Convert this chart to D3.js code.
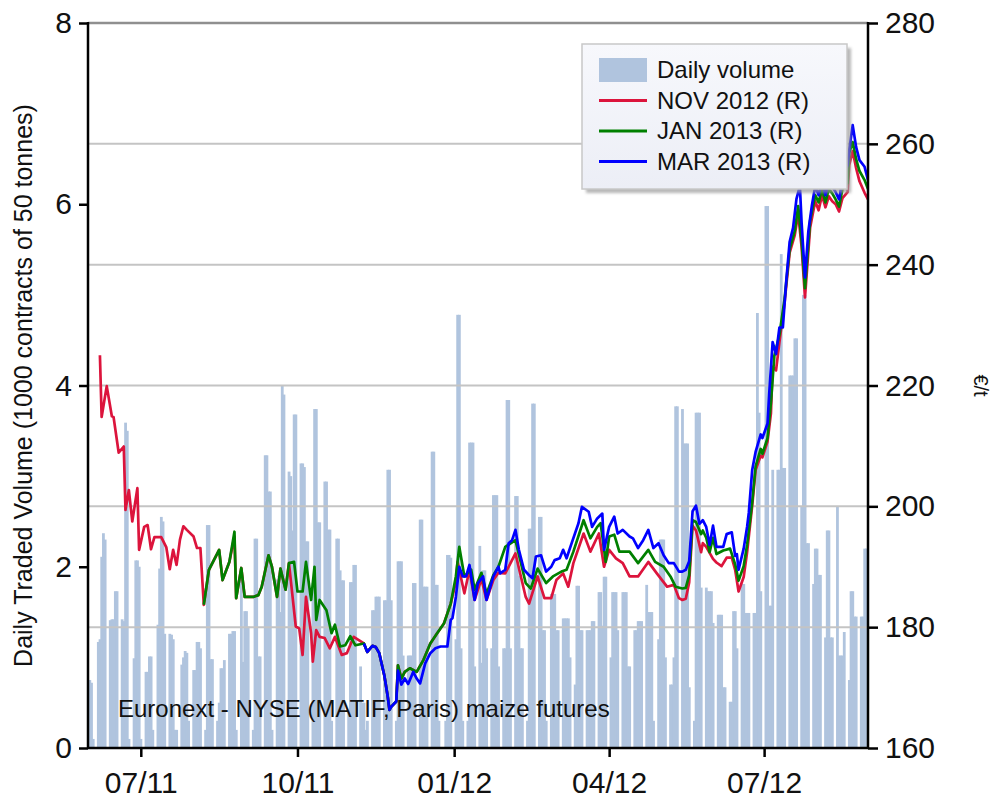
<!DOCTYPE html>
<html>
<head>
<meta charset="utf-8">
<script src="https://d3js.org/d3.v7.min.js"></script>
<style>
  body { margin: 0; background: #fff; }
  svg { display: block; font-family: "Liberation Sans", Arial, sans-serif; }
</style>
</head>
<body>
<svg id="chart" width="996" height="800"></svg>
<script>
// daily traded volume, 1000 contracts, one row per week (Mon..Fri), first week starts Wed 1 Jun 2011
var volume = [
  0.75, 0.72, 0.10,
  1.17, 1.20, 2.11, 2.37, 2.30,
  1.41, 1.42, 1.42, 1.73, 1.73,
  1.42, 1.40, 3.59, 3.50, 0.10,
  0.99, 2.07, 2.07, 2.00, 0.10,
  0.84, 0.84, 1.01, 1.01, 0.20,
  1.36, 1.98, 2.55, 2.50, 1.26,
  1.26, 1.25, 1.20, 0.20, 0.20,
  0.92, 1.00, 1.07, 1.05, 0.30,
  0.86, 0.86, 1.17, 1.17, 1.10,
  0.20, 2.46, 2.46, 0.98, 0.98,
  0.30, 0.50, 0.88, 0.88, 0.97,
  1.26, 1.26, 1.29, 1.29, 0.20,
  1.89, 0.95, 1.51, 1.51, 1.34,
  0.20, 2.31, 2.31, 1.01, 1.01,
  3.23, 3.23, 2.83, 2.83, 0.20,
  1.86, 1.90, 1.50, 4.00, 3.90,
  3.05, 3.00, 2.40, 3.68, 3.68,
  3.14, 3.14, 3.10, 2.28, 2.28,
  1.82, 3.74, 3.74, 2.49, 2.49,
  2.94, 2.94, 2.41, 2.41, 0.30,
  2.31, 2.31, 1.96, 1.85, 1.85,
  0.40, 1.83, 1.83, 2.02, 2.02,
  0.90, 0.50, 0.50, 0.20, 0.30,
  1.52, 1.52, 1.67, 1.67, 1.67,
  1.63, 1.63, 3.07, 3.07, 1.63,
  0.30, 2.06, 2.06, 2.06, 1.02,
  1.02, 1.02, 1.02, 1.82, 1.82,
  2.52, 2.52, 1.78, 1.78, 1.78,
  3.27, 3.27, 1.80, 1.80, 0.30,
  0.00, 0.30, 2.13, 2.13, 2.10,
  1.20, 4.78, 4.78, 1.10, 0.30,
  0.30, 3.37, 3.37, 3.37, 0.90,
  2.23, 0.94, 1.96, 1.96, 1.10,
  1.10, 2.79, 2.79, 2.79, 0.90,
  1.10, 1.10, 3.84, 3.84, 1.10,
  2.78, 2.78, 1.90, 1.10, 1.10,
  0.30, 2.42, 2.42, 3.80, 3.80,
  2.55, 2.55, 1.30, 1.30, 0.30,
  1.70, 1.70, 1.70, 1.30, 1.30,
  1.43, 1.43, 1.43, 1.43, 1.00,
  0.70, 1.79, 1.79, 1.30, 1.30,
  1.30, 1.30, 1.30, 1.40, 1.40,
  1.72, 1.72, 1.35, 1.89, 1.89,
  1.00, 1.72, 1.72, 1.72, 1.30,
  1.72, 1.72, 1.72, 0.90, 0.90,
  1.30, 1.30, 1.40, 1.40, 1.40,
  1.80, 1.50, 1.50, 1.50, 0.30,
  1.20, 2.30, 2.30, 2.30, 1.00,
  0.70, 0.70, 1.00, 3.77, 3.77,
  3.74, 3.36, 3.36, 3.36, 0.67,
  0.30, 3.70, 3.70, 3.70, 1.77,
  1.77, 1.73, 1.73, 1.73, 1.38,
  1.47, 1.47, 1.47, 0.67, 0.67,
  0.51, 0.51, 1.51, 1.51, 1.10,
  1.81, 1.81, 1.49, 1.49, 1.49,
  1.49, 1.49, 4.80, 3.70, 1.73,
  5.98, 5.98, 1.57, 1.57, 3.07,
  3.07, 3.07, 5.45, 3.09, 3.09,
  4.11, 4.11, 4.11, 4.52, 4.52,
  2.67, 5.00, 5.00, 2.26, 2.26,
  1.81, 2.20, 2.20, 1.91, 1.91,
  1.22, 2.40, 2.40, 1.22, 1.22,
  2.67, 1.02, 1.02, 1.02, 1.28,
  0.75, 1.73, 1.73, 1.45, 1.45,
  1.45, 1.45, 2.20, 2.20, 2.20
];

// settlement prices, EUR/t
var nov2012 = [
  ["2011-06-07",225.0],["2011-06-08",214.8],["2011-06-11",219.9],["2011-06-14",214.9],["2011-06-15",214.8],
  ["2011-06-18",208.9],["2011-06-21",209.9],["2011-06-22",199.4],["2011-06-24",202.7],["2011-06-26",197.5],
  ["2011-06-29",203.0],["2011-06-30",192.8],["2011-07-03",196.6],["2011-07-05",196.9],["2011-07-07",192.9],
  ["2011-07-09",194.9],["2011-07-13",194.9],["2011-07-16",193.2],["2011-07-18",189.6],["2011-07-20",192.8],
  ["2011-07-22",190.3],["2011-07-24",194.5],["2011-07-26",196.7],["2011-07-28",196.1],["2011-08-01",195.0],
  ["2011-08-03",193.1],["2011-08-05",193.1],["2011-08-07",183.7],["2011-08-10",189.5],["2011-08-16",192.8],
  ["2011-08-18",187.8],["2011-08-22",190.8],["2011-08-25",195.0],["2011-08-26",184.8],["2011-08-29",189.8],
  ["2011-08-31",185.0],["2011-09-05",185.0],["2011-09-08",185.3],["2011-09-10",186.7],["2011-09-14",191.9],
  ["2011-09-16",190.0],["2011-09-19",185.0],["2011-09-21",189.7],["2011-09-24",186.2],["2011-09-26",190.6],
  ["2011-09-30",180.1],["2011-10-02",179.8],["2011-10-04",175.4],["2011-10-06",185.0],["2011-10-09",179.0],
  ["2011-10-10",174.3],["2011-10-12",179.5],["2011-10-14",178.4],["2011-10-17",178.2],["2011-10-20",176.5],
  ["2011-10-23",178.4],["2011-10-27",175.4],["2011-10-30",175.7],["2011-11-03",178.4],["2011-11-09",177.3],
  ["2011-11-11",175.9],["2011-11-14",176.9],["2011-11-16",176.7],["2011-11-18",175.7],["2011-11-21",172.0],
  ["2011-11-23",168.5],["2011-11-24",166.3],["2011-11-25",166.8],["2011-11-28",167.7],["2011-11-29",173.7],
  ["2011-12-01",171.5],["2011-12-03",172.6],["2011-12-06",173.2],["2011-12-10",172.6],["2011-12-14",174.6],
  ["2011-12-18",177.3],["2011-12-22",179.0],["2011-12-26",180.6],["2011-12-30",183.9],["2012-01-02",187.5],
  ["2012-01-03",190.8],["2012-01-07",185.6],["2012-01-10",189.5],["2012-01-13",184.5],["2012-01-17",188.0],
  ["2012-01-20",184.5],["2012-01-24",187.8],["2012-01-27",189.0],["2012-01-31",188.9],["2012-02-06",192.2],
  ["2012-02-12",185.0],["2012-02-14",183.9],["2012-02-19",188.4],["2012-02-23",184.8],["2012-02-27",184.8],
  ["2012-03-01",187.8],["2012-03-05",188.9],["2012-03-08",186.7],["2012-03-11",190.6],["2012-03-17",195.5],
  ["2012-03-21",192.5],["2012-03-26",195.5],["2012-03-29",190.0],["2012-04-01",192.8],["2012-04-05",191.4],
  ["2012-04-09",190.6],["2012-04-13",188.4],["2012-04-18",188.4],["2012-04-24",190.8],["2012-04-29",188.9],
  ["2012-05-05",186.7],["2012-05-09",187.0],["2012-05-12",184.8],["2012-05-14",184.5],["2012-05-16",184.7],
  ["2012-05-18",187.4],["2012-05-20",196.8],["2012-05-22",196.0],["2012-05-25",192.4],["2012-05-26",193.9],
  ["2012-05-28",193.3],["2012-06-01",191.3],["2012-06-03",190.7],["2012-06-06",190.1],["2012-06-09",191.5],
  ["2012-06-12",191.5],["2012-06-14",189.5],["2012-06-16",185.9],["2012-06-19",188.3],["2012-06-21",192.4],
  ["2012-06-24",200.1],["2012-06-26",206.0],["2012-06-29",208.4],["2012-06-30",208.1],["2012-07-03",210.7],
  ["2012-07-05",215.4],["2012-07-06",223.1],["2012-07-08",222.5],["2012-07-10",227.2],["2012-07-13",233.7],
  ["2012-07-16",242.0],["2012-07-19",244.9],["2012-07-21",248.5],["2012-07-23",243.0],["2012-07-25",234.6],
  ["2012-07-28",246.1],["2012-07-31",250.5],["2012-08-02",249.0],["2012-08-04",251.5],["2012-08-06",249.5],
  ["2012-08-08",251.3],["2012-08-10",250.5],["2012-08-12",250.0],["2012-08-14",248.8],["2012-08-16",251.0],
  ["2012-08-19",252.0],["2012-08-20",256.5],["2012-08-22",258.8],["2012-08-24",256.0],["2012-08-26",253.8],
  ["2012-08-29",251.9],["2012-08-31",250.8]
];

var jan2013 = [
  ["2011-08-07",183.7],["2011-08-10",189.5],["2011-08-16",192.8],["2011-08-18",187.8],["2011-08-22",190.8],
  ["2011-08-25",195.8],["2011-08-26",184.8],["2011-08-29",189.8],["2011-08-31",185.0],["2011-09-05",185.0],
  ["2011-09-08",185.3],["2011-09-10",186.7],["2011-09-14",191.9],["2011-09-16",190.0],["2011-09-19",185.0],
  ["2011-09-21",189.7],["2011-09-24",186.2],["2011-09-26",190.6],["2011-09-29",190.8],["2011-10-01",185.9],
  ["2011-10-04",185.9],["2011-10-06",190.8],["2011-10-09",184.5],["2011-10-11",190.0],["2011-10-12",181.2],
  ["2011-10-14",184.5],["2011-10-18",182.8],["2011-10-21",179.0],["2011-10-23",180.4],["2011-10-26",176.8],
  ["2011-10-29",177.0],["2011-11-01",178.5],["2011-11-04",177.0],["2011-11-09",177.3],["2011-11-11",175.9],
  ["2011-11-14",176.9],["2011-11-16",176.7],["2011-11-18",175.7],["2011-11-21",172.0],["2011-11-23",168.5],
  ["2011-11-24",166.3],["2011-11-25",166.8],["2011-11-28",167.7],["2011-11-29",173.7],["2011-12-01",171.5],
  ["2011-12-03",172.6],["2011-12-06",173.2],["2011-12-10",172.6],["2011-12-14",174.6],["2011-12-18",177.3],
  ["2011-12-22",179.0],["2011-12-26",180.6],["2011-12-30",183.9],["2012-01-02",188.4],["2012-01-04",193.3],
  ["2012-01-07",188.4],["2012-01-11",189.5],["2012-01-13",186.2],["2012-01-17",189.0],["2012-01-20",185.5],
  ["2012-01-24",188.6],["2012-01-27",190.0],["2012-01-31",193.3],["2012-02-06",194.4],["2012-02-12",187.3],
  ["2012-02-15",186.4],["2012-02-19",189.7],["2012-02-24",187.3],["2012-02-28",188.4],["2012-03-04",189.2],
  ["2012-03-07",189.5],["2012-03-11",192.5],["2012-03-17",197.7],["2012-03-21",194.7],["2012-03-25",196.6],
  ["2012-03-27",197.2],["2012-03-30",190.8],["2012-04-01",195.0],["2012-04-04",195.3],["2012-04-07",192.5],
  ["2012-04-13",192.5],["2012-04-18",190.6],["2012-04-24",192.8],["2012-04-28",190.8],["2012-05-03",190.0],
  ["2012-05-07",188.4],["2012-05-10",186.7],["2012-05-14",186.4],["2012-05-16",186.5],["2012-05-18",188.6],
  ["2012-05-20",197.7],["2012-05-22",197.4],["2012-05-25",195.4],["2012-05-26",196.0],["2012-05-28",194.8],
  ["2012-05-30",192.4],["2012-06-01",194.8],["2012-06-03",192.1],["2012-06-07",192.7],["2012-06-11",193.0],
  ["2012-06-14",190.4],["2012-06-16",187.7],["2012-06-19",190.1],["2012-06-21",193.6],["2012-06-24",200.7],
  ["2012-06-26",206.6],["2012-06-29",209.5],["2012-06-30",208.7],["2012-07-03",211.3],["2012-07-05",217.2],
  ["2012-07-07",224.9],["2012-07-10",228.4],["2012-07-13",234.3],["2012-07-16",242.6],["2012-07-19",245.6],
  ["2012-07-21",249.7],["2012-07-23",244.0],["2012-07-25",236.1],["2012-07-28",247.3],["2012-07-31",251.5],
  ["2012-08-02",250.3],["2012-08-04",252.5],["2012-08-06",250.3],["2012-08-08",252.5],["2012-08-10",251.8],
  ["2012-08-12",250.8],["2012-08-14",249.6],["2012-08-16",252.5],["2012-08-19",253.5],["2012-08-20",258.5],
  ["2012-08-22",260.3],["2012-08-24",257.5],["2012-08-26",255.5],["2012-08-29",254.0],["2012-08-31",252.5]
];

var mar2013 = [
  ["2011-11-09",177.3],["2011-11-11",175.9],["2011-11-14",176.9],["2011-11-16",176.7],["2011-11-18",175.7],
  ["2011-11-21",172.0],["2011-11-23",168.5],["2011-11-24",166.3],["2011-11-25",166.8],["2011-11-28",167.7],
  ["2011-11-29",172.8],["2011-12-01",170.5],["2011-12-03",171.5],["2011-12-05",170.6],["2011-12-08",172.6],
  ["2011-12-10",171.5],["2011-12-12",170.7],["2011-12-15",174.0],["2011-12-18",175.7],["2011-12-21",176.5],
  ["2011-12-24",176.8],["2011-12-28",176.8],["2011-12-30",181.2],["2011-12-31",181.5],["2012-01-02",185.0],
  ["2012-01-04",190.0],["2012-01-06",188.4],["2012-01-08",188.4],["2012-01-10",190.3],["2012-01-13",184.5],
  ["2012-01-15",187.3],["2012-01-18",188.4],["2012-01-20",184.5],["2012-01-24",188.4],["2012-01-27",190.0],
  ["2012-01-28",188.9],["2012-01-31",189.5],["2012-02-02",193.9],["2012-02-04",194.4],["2012-02-06",196.1],
  ["2012-02-08",192.8],["2012-02-11",189.5],["2012-02-14",188.6],["2012-02-16",188.1],["2012-02-18",191.7],
  ["2012-02-21",191.9],["2012-02-24",189.2],["2012-02-27",190.0],["2012-02-29",191.1],["2012-03-03",191.4],
  ["2012-03-05",192.8],["2012-03-07",191.4],["2012-03-10",193.9],["2012-03-14",197.2],["2012-03-16",199.9],
  ["2012-03-20",199.1],["2012-03-22",196.6],["2012-03-25",198.0],["2012-03-28",198.8],["2012-03-29",192.8],
  ["2012-04-01",196.6],["2012-04-04",198.3],["2012-04-06",195.5],["2012-04-09",196.1],["2012-04-13",195.0],
  ["2012-04-15",194.7],["2012-04-18",193.1],["2012-04-21",194.4],["2012-04-24",196.1],["2012-04-27",193.1],
  ["2012-04-30",193.9],["2012-05-03",191.9],["2012-05-06",190.6],["2012-05-09",190.6],["2012-05-12",189.2],
  ["2012-05-14",189.2],["2012-05-16",189.5],["2012-05-18",190.9],["2012-05-20",199.2],["2012-05-22",200.1],
  ["2012-05-24",197.1],["2012-05-26",197.7],["2012-05-28",196.6],["2012-05-30",193.6],["2012-06-01",196.8],
  ["2012-06-03",193.3],["2012-06-07",193.3],["2012-06-09",195.4],["2012-06-12",195.7],["2012-06-14",191.8],
  ["2012-06-15",192.1],["2012-06-16",189.5],["2012-06-19",193.0],["2012-06-21",196.6],["2012-06-22",198.9],
  ["2012-06-24",206.0],["2012-06-26",209.0],["2012-06-29",211.9],["2012-06-30",211.3],["2012-07-03",213.7],
  ["2012-07-04",218.7],["2012-07-06",227.2],["2012-07-08",225.2],["2012-07-10",229.6],["2012-07-12",229.6],
  ["2012-07-14",237.3],["2012-07-16",243.8],["2012-07-18",246.1],["2012-07-20",250.9],["2012-07-22",253.0],
  ["2012-07-23",247.0],["2012-07-25",237.9],["2012-07-27",245.6],["2012-07-29",249.7],["2012-07-31",253.0],
  ["2012-08-02",251.5],["2012-08-04",254.0],["2012-08-06",251.5],["2012-08-08",254.0],["2012-08-10",253.0],
  ["2012-08-12",252.0],["2012-08-14",250.8],["2012-08-16",254.0],["2012-08-19",256.5],["2012-08-20",259.0],
  ["2012-08-22",263.1],["2012-08-24",259.5],["2012-08-26",257.3],["2012-08-29",256.2],["2012-08-31",254.0]
];

var volTicks = [0, 2, 4, 6, 8];
var priceTicks = [160, 180, 200, 220, 240, 260, 280];
var dateTicks = ["2011-07-01", "2011-10-01", "2012-01-01", "2012-04-01", "2012-07-01"];

var legendItems = [
  { label: "Daily volume", type: "bar", color: "#b0c4de" },
  { label: "NOV 2012 (R)", type: "line", color: "#dc143c" },
  { label: "JAN 2013 (R)", type: "line", color: "#008000" },
  { label: "MAR 2013 (R)", type: "line", color: "#0000ff" }
];

var parse = d3.utcParse("%Y-%m-%d");
var plot = { left: 88, right: 868, top: 23, bottom: 748 };

var svg = d3.select("#chart");

var x = d3.scaleUtc()
  .domain([parse("2011-05-31"), parse("2012-08-31")])
  .range([plot.left, plot.right]);
var yVol = d3.scaleLinear().domain([0, 8]).range([plot.bottom, plot.top]);
var yPrice = d3.scaleLinear().domain([160, 280]).range([plot.bottom, plot.top]);

// trading days for the volume bars
var days = d3.utcDay.range(parse("2011-06-01"), parse("2012-09-01"))
  .filter(function (d) { return d.getUTCDay() !== 0 && d.getUTCDay() !== 6; });
var bars = days.map(function (d, i) { return { date: d, v: volume[i] || 0 }; });

var defs = svg.append("defs");
defs.append("filter").attr("id", "blur")
  .append("feGaussianBlur").attr("stdDeviation", 1.6);
defs.append("clipPath").attr("id", "plotclip")
  .append("rect")
  .attr("x", plot.left).attr("y", plot.top)
  .attr("width", plot.right - plot.left).attr("height", plot.bottom - plot.top);

var grad = defs.append("linearGradient").attr("id", "legfill")
  .attr("x1", 0).attr("y1", 0).attr("x2", 0).attr("y2", 1);
grad.append("stop").attr("offset", "0%").attr("stop-color", "#f7f8fc");
grad.append("stop").attr("offset", "100%").attr("stop-color", "#eceef6");

// volume bars
svg.append("g").attr("clip-path", "url(#plotclip)")
  .selectAll("rect").data(bars).enter().append("rect")
  .attr("x", function (d) { return x(d.date) - 1.3; })
  .attr("width", 2.8)
  .attr("y", function (d) { return yVol(d.v); })
  .attr("height", function (d) { return plot.bottom - yVol(d.v); })
  .attr("fill", "#b0c4de");

// grid lines from the price axis
svg.append("g").selectAll("line").data(priceTicks.slice(1, -1)).enter().append("line")
  .attr("x1", plot.left).attr("x2", plot.right)
  .attr("y1", function (d) { return yPrice(d); })
  .attr("y2", function (d) { return yPrice(d); })
  .attr("stroke", "#c4c4c4").attr("stroke-width", 2);
svg.append("line")
  .attr("x1", plot.left).attr("x2", plot.right)
  .attr("y1", plot.top).attr("y2", plot.top)
  .attr("stroke", "#8f8f8f").attr("stroke-width", 2.5);

// price lines
var line = d3.line()
  .x(function (d) { return x(parse(d[0])); })
  .y(function (d) { return yPrice(d[1]); });

var series = [
  { data: nov2012, color: legendItems[1].color },
  { data: jan2013, color: legendItems[2].color },
  { data: mar2013, color: legendItems[3].color }
];
svg.append("g").attr("clip-path", "url(#plotclip)")
  .selectAll("path").data(series).enter().append("path")
  .attr("d", function (s) { return line(s.data); })
  .attr("fill", "none")
  .attr("stroke", function (s) { return s.color; })
  .attr("stroke-width", 2.7)
  .attr("stroke-linejoin", "round");

svg.append("text")
  .attr("x", 118).attr("y", 717)
  .attr("font-size", 24).attr("fill", "#111")
  .text("Euronext - NYSE (MATIF, Paris) maize futures");

// axis shadows
svg.append("line")
  .attr("x1", plot.left + 2).attr("x2", plot.right + 3)
  .attr("y1", plot.bottom + 3).attr("y2", plot.bottom + 3)
  .attr("stroke", "#888").attr("stroke-width", 3).attr("opacity", 0.6)
  .attr("filter", "url(#blur)");
svg.append("line")
  .attr("x1", plot.right + 3).attr("x2", plot.right + 3)
  .attr("y1", plot.top + 3).attr("y2", plot.bottom + 3)
  .attr("stroke", "#888").attr("stroke-width", 3).attr("opacity", 0.6)
  .attr("filter", "url(#blur)");

// axes
function styleAxis(g) {
  g.select(".domain").remove();
  g.selectAll(".tick line").attr("stroke", "#000").attr("stroke-width", 2.5);
  g.selectAll(".tick text").attr("font-size", 30).attr("fill", "#111")
    .attr("font-family", "Liberation Sans, Arial, sans-serif");
}

svg.append("g")
  .attr("transform", "translate(" + plot.left + ",0)")
  .call(d3.axisLeft(yVol).tickValues(volTicks).tickSize(9).tickPadding(7).tickFormat(d3.format("d")))
  .call(styleAxis);

svg.append("g")
  .attr("transform", "translate(" + plot.right + ",0)")
  .call(d3.axisRight(yPrice).tickValues(priceTicks).tickSize(10).tickPadding(7))
  .call(styleAxis);

svg.append("g")
  .attr("transform", "translate(0," + plot.bottom + ")")
  .call(d3.axisBottom(x).tickValues(dateTicks.map(parse)).tickSize(9).tickPadding(15)
    .tickFormat(d3.utcFormat("%m/%y")))
  .call(styleAxis);

// axis lines
svg.append("line").attr("x1", plot.left).attr("x2", plot.left)
  .attr("y1", plot.top - 1).attr("y2", plot.bottom + 1)
  .attr("stroke", "#000").attr("stroke-width", 2.5);
svg.append("line").attr("x1", plot.right).attr("x2", plot.right)
  .attr("y1", plot.top - 1).attr("y2", plot.bottom + 1)
  .attr("stroke", "#000").attr("stroke-width", 2.5);
svg.append("line").attr("x1", plot.left).attr("x2", plot.right)
  .attr("y1", plot.bottom).attr("y2", plot.bottom)
  .attr("stroke", "#000").attr("stroke-width", 2.5);

// axis titles
svg.append("text")
  .attr("transform", "translate(32," + ((plot.top + plot.bottom) / 2) + ") rotate(-90)")
  .attr("text-anchor", "middle")
  .attr("font-size", 25).attr("fill", "#111")
  .text("Daily Traded Volume (1000 contracts of 50 tonnes)");

svg.append("text")
  .attr("transform", "translate(974," + ((plot.top + plot.bottom) / 2) + ") rotate(90)")
  .attr("text-anchor", "middle")
  .attr("font-size", 20).attr("fill", "#111")
  .text("€/t");

// legend
var leg = svg.append("g").attr("transform", "translate(582,44)");
leg.append("rect")
  .attr("x", 4).attr("y", 4).attr("width", 265).attr("height", 145)
  .attr("fill", "#999").attr("opacity", 0.7).attr("filter", "url(#blur)");
leg.append("rect")
  .attr("width", 265).attr("height", 145)
  .attr("fill", "url(#legfill)").attr("stroke", "#c8c8c8").attr("stroke-width", 1.5);

var rows = leg.selectAll("g.row").data(legendItems).enter().append("g")
  .attr("class", "row")
  .attr("transform", function (d, i) { return "translate(0," + (26 + i * 30.5) + ")"; });
rows.filter(function (d) { return d.type === "bar"; }).append("rect")
  .attr("x", 17).attr("y", -12).attr("width", 48).attr("height", 24)
  .attr("fill", function (d) { return d.color; });
rows.filter(function (d) { return d.type === "line"; }).append("line")
  .attr("x1", 17).attr("x2", 65).attr("y1", 0).attr("y2", 0)
  .attr("stroke", function (d) { return d.color; }).attr("stroke-width", 3);
rows.append("text")
  .attr("x", 75).attr("y", 8)
  .attr("font-size", 24).attr("fill", "#111")
  .text(function (d) { return d.label; });
</script>
</body>
</html>
